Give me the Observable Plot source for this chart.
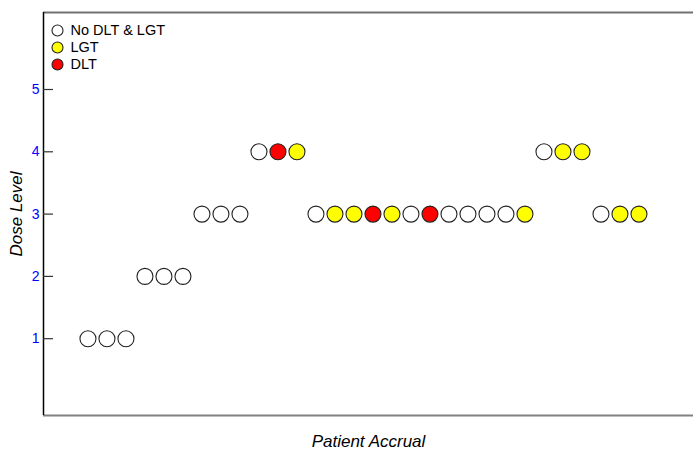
<!DOCTYPE html>
<html>
<head>
<meta charset="utf-8">
<script src="https://cdn.jsdelivr.net/npm/d3@7"></script>
<script src="https://cdn.jsdelivr.net/npm/@observablehq/plot@0.6"></script>
<style>
  html, body { margin: 0; padding: 0; background: #fff; }
  #chart svg { display: block; }
</style>
</head>
<body>
<div id="chart"></div>
<script>
// Data
const patients = [1,2,3,4,5,6,7,8,9,10,11,12,13,14,15,16,17,18,19,20,21,22,23,24,25,26,27,28,29,30];
const doseLevels = [1,1,1,2,2,2,3,3,3,4,4,4,3,3,3,3,3,3,3,3,3,3,3,3,4,4,4,3,3,3];
const outcomes = ["No DLT & LGT","No DLT & LGT","No DLT & LGT","No DLT & LGT","No DLT & LGT","No DLT & LGT",
  "No DLT & LGT","No DLT & LGT","No DLT & LGT","No DLT & LGT","DLT","LGT",
  "No DLT & LGT","LGT","LGT","DLT","LGT","No DLT & LGT","DLT","No DLT & LGT",
  "No DLT & LGT","No DLT & LGT","No DLT & LGT","LGT","No DLT & LGT","LGT","LGT",
  "No DLT & LGT","LGT","LGT"];
const legendLabels = ["No DLT & LGT","LGT","DLT"];
const legendColors = ["#ffffff","#ffff00","#ff0000"];
const yTicks = [1,2,3,4,5];
const xDomain = [-1.34, 32.87];
const yDomain = [-0.233, 6.236];

const rows = patients.map((p, i) => ({patient: p, dose: doseLevels[i], outcome: outcomes[i]}));

const W = 693, H = 453, mL = 43, mR = 0, mT = 12, mB = 38;
const font = "'Liberation Sans', Arial, Helvetica, sans-serif";

const legendMarks = legendLabels.flatMap((lab, i) => [
  Plot.dot([lab], {frameAnchor: "top-left", dx: 14, dy: 18 + i * 17, r: 5.5, fill: d => d, stroke: "#222", strokeWidth: 1.1}),
  Plot.text([lab], {frameAnchor: "top-left", dx: 27, dy: 18 + i * 17, text: d => d, textAnchor: "start", lineAnchor: "middle", fontSize: 14.5, fill: "#000"})
]);

const chart = Plot.plot({
  width: W, height: H,
  marginLeft: mL, marginRight: mR, marginTop: mT, marginBottom: mB,
  style: {fontFamily: font, background: "#fff"},
  x: {domain: xDomain, axis: null},
  y: {domain: yDomain, axis: null},
  color: {domain: legendLabels, range: legendColors},
  marks: [
    Plot.ruleY([yDomain[0]], {stroke: "#808080", strokeWidth: 2}),
    Plot.ruleY([yDomain[1]], {stroke: "#707070", strokeWidth: 2}),
    Plot.ruleX([xDomain[0]], {stroke: "#000", strokeWidth: 1.5}),
    Plot.tickY(yTicks, {y: d => d, insetRight: W - mL - mR - 10, stroke: "#333", strokeWidth: 1.2}),
    Plot.axisY({ticks: yTicks, tickFormat: d3.format("d"), tickSize: 0, tickPadding: 4, fill: "#0000ff", fontSize: 14, label: null}),
    Plot.dot(rows, {x: "patient", y: "dose", fill: "outcome", r: 8, stroke: "#222", strokeWidth: 1.1}),
    ...legendMarks,
    Plot.text(["Patient Accrual"], {frameAnchor: "bottom", dy: 26, text: d => d, lineAnchor: "middle", fontSize: 17, fontStyle: "italic", fill: "#000"}),
    Plot.text(["Dose Level"], {frameAnchor: "left", dx: -27, rotate: -90, text: d => d, textAnchor: "middle", lineAnchor: "middle", fontSize: 17, fontStyle: "italic", fill: "#000"})
  ]
});
document.getElementById("chart").appendChild(chart);
</script>
</body>
</html>
